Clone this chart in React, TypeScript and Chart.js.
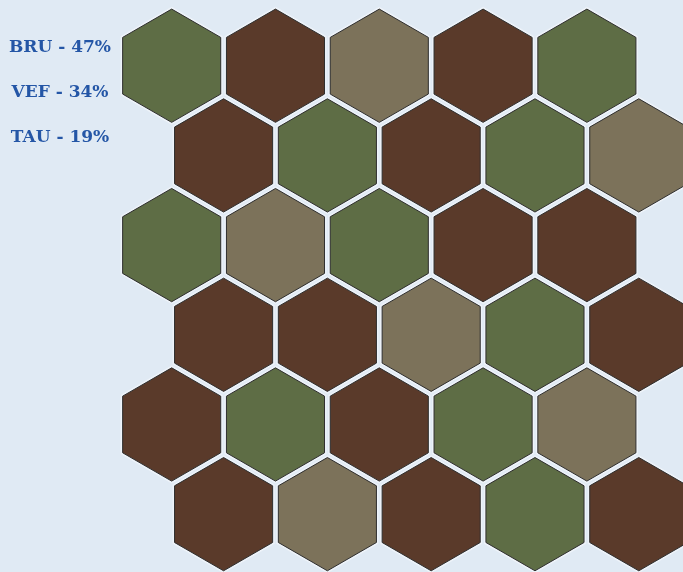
import React, { useEffect, useRef } from "react";
import { Chart, registerables } from "chart.js";

Chart.register(...registerables);

const categories = ["BRU", "VEF", "TAU"];
const percents = [47, 34, 19];
const colors = ["#5a3a2a", "#5e6d45", "#7c725a"];
// cell category per row (0=BRU,1=VEF,2=TAU), 6 rows x 5 columns, odd rows shifted half a cell
const gridRows = [
  [1, 0, 2, 0, 1],
  [0, 1, 0, 1, 2],
  [1, 2, 1, 0, 0],
  [0, 0, 2, 1, 0],
  [0, 1, 0, 1, 2],
  [0, 2, 0, 1, 0],
];

function pointsFor(cat: number) {
  const pts: { x: number; y: number }[] = [];
  gridRows.forEach((row, r) =>
    row.forEach((c, i) => {
      if (c === cat) pts.push({ x: i + (r % 2 ? 0.5 : 0), y: r });
    })
  );
  return pts;
}

function hexPath(ctx: any, cx: number, cy: number, R: number) {
  ctx.beginPath();
  for (let k = 0; k < 6; k++) {
    const a = (Math.PI / 3) * k - Math.PI / 2;
    const px = cx + R * Math.cos(a);
    const py = cy + R * Math.sin(a);
    if (k === 0) ctx.moveTo(px, py);
    else ctx.lineTo(px, py);
  }
  ctx.closePath();
}

const hexPlugin = {
  id: "hexPlugin",
  afterDatasetsDraw(chart: any) {
    const ctx = chart.ctx;
    const xs = chart.scales.x;
    const step = Math.abs(xs.getPixelForValue(1) - xs.getPixelForValue(0));
    const R = (step / Math.sqrt(3)) * 0.945;
    ctx.save();
    ctx.lineJoin = "miter";
    // light halo around every cell
    chart.data.datasets.forEach((ds: any, di: number) => {
      chart.getDatasetMeta(di).data.forEach((el: any) => {
        hexPath(ctx, el.x, el.y, R);
        ctx.lineWidth = 4;
        ctx.strokeStyle = "#eef3f9";
        ctx.stroke();
      });
    });
    chart.data.datasets.forEach((ds: any, di: number) => {
      chart.getDatasetMeta(di).data.forEach((el: any) => {
        hexPath(ctx, el.x, el.y, R);
        ctx.fillStyle = ds.backgroundColor;
        ctx.fill();
        ctx.lineWidth = 1;
        ctx.strokeStyle = "#2e2e2e";
        ctx.stroke();
      });
    });
    // legend labels
    ctx.fillStyle = "#2456a6";
    ctx.font = "bold 17px 'DejaVu Serif'";
    ctx.textAlign = "center";
    ctx.textBaseline = "middle";
    categories.forEach((c, i) => {
      ctx.fillText(`${c} - ${percents[i]}%`, 60, 48 + i * 45);
    });
    ctx.restore();
  },
};

const bgPlugin = {
  id: "bgPlugin",
  beforeDraw(chart: any) {
    const ctx = chart.ctx;
    ctx.save();
    ctx.fillStyle = "#e0eaf4";
    ctx.fillRect(0, 0, chart.width, chart.height);
    ctx.restore();
  },
};

export default function App() {
  const ref = useRef<HTMLCanvasElement>(null);
  useEffect(() => {
    document.body.style.margin = "0";
    document.body.style.overflow = "hidden";
    const chart = new Chart(ref.current!, {
      type: "scatter",
      data: {
        datasets: categories.map((c, i) => ({
          label: c,
          data: pointsFor(i),
          backgroundColor: colors[i],
          pointRadius: 0,
          pointHoverRadius: 0,
        })),
      },
      options: {
        animation: false,
        responsive: false,
        layout: { padding: 0 },
        plugins: { legend: { display: false }, tooltip: { enabled: false } },
        scales: {
          x: { type: "linear", display: false, min: -1.654, max: 4.926 },
          y: { type: "linear", display: false, reverse: true, min: -0.733, max: 5.645 },
        },
      },
      plugins: [bgPlugin, hexPlugin],
    });
    return () => chart.destroy();
  }, []);
  return (
    <div style={{ width: 683, height: 572 }}>
      <canvas ref={ref} width={683} height={572} style={{ display: "block" }} />
    </div>
  );
}
